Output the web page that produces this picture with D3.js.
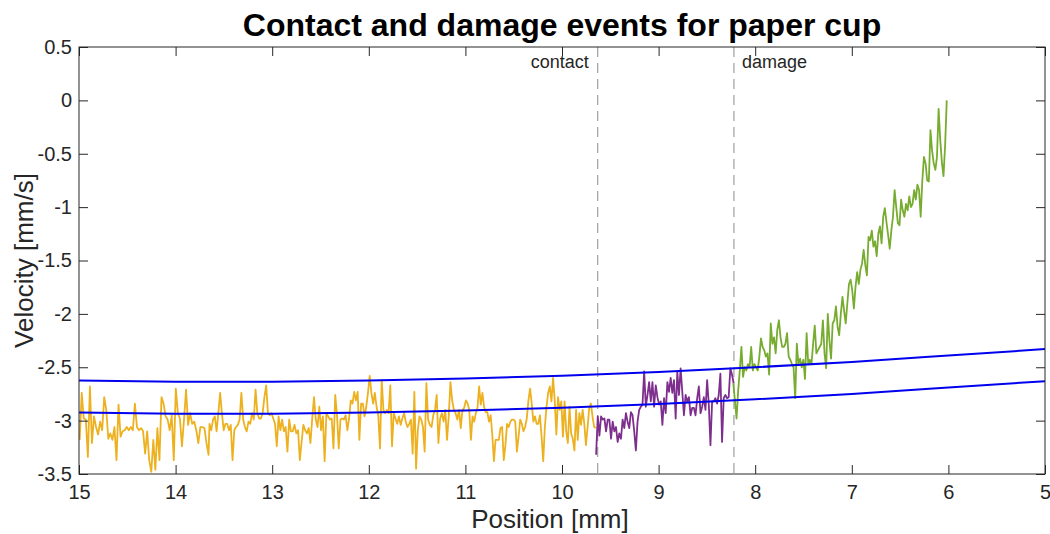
<!DOCTYPE html>
<html>
<head>
<meta charset="utf-8">
<script src="https://cdn.jsdelivr.net/npm/d3@7"></script>
<style>
  body { margin: 0; background: #fff; }
  svg { display: block; font-family: Helvetica, Arial, "Liberation Sans", sans-serif; }
  .axis text { font-size: 20px; fill: #262626; }
  .axis line { stroke: #262626; }
</style>
</head>
<body>
<div id="chart"></div>
<script>
// velocity, per stretch of position (mm)
const yellowA = [-3.18, -2.74, -2.98, -2.99, -3.34, -2.68, -3.21, -2.96, -3.06, -3.13,
  -3.01, -3.09, -2.78, -2.90, -3.17, -3.12, -3.18, -3.06, -3.37, -2.85,
  -3.15, -3.10, -3.09, -3.06, -3.09, -3.06, -3.09, -2.84, -3.06, -3.09,
  -3.07, -3.10, -3.31, -3.10, -3.37, -3.48, -3.18, -3.46, -3.07, -3.37,
  -2.78, -2.84, -2.96, -2.99, -3.09, -2.95, -3.37, -2.70, -2.93, -2.98,
  -3.24, -2.99, -2.71, -3.04, -2.93, -3.03, -3.01, -3.09, -3.21, -3.06,
  -3.06, -3.07, -3.21, -3.32];
const yellowB = [-3.03, -3.09, -2.99, -2.96, -3.10, -2.93, -2.74, -2.93, -3.09, -3.03,
  -3.03, -3.09, -3.04, -3.37, -3.09, -3.06, -3.04, -2.99, -2.74, -2.99,
  -3.06, -3.10, -3.01, -3.03, -2.93, -2.99, -2.71, -2.93, -2.98, -2.98,
  -2.93, -2.78, -2.67, -2.93, -2.95, -2.93, -2.98, -3.03, -3.24, -2.96,
  -3.09, -2.99, -3.10, -3.06, -3.29, -2.99, -3.10, -3.10, -3.04, -3.12,
  -3.09, -3.37, -3.20, -3.04, -3.09, -3.12, -3.07, -3.21, -2.98, -2.78,
  -2.99, -3.06, -2.87, -3.09, -2.96, -3.38, -2.93, -2.96, -2.99, -2.98,
  -3.26, -2.76, -2.95];
const yellowC = [-3.26, -2.99, -2.98, -2.99, -2.95, -3.09, -2.98, -2.81, -2.84, -2.73,
  -2.81, -2.73, -3.18, -2.84, -2.84, -2.96, -2.87, -2.74, -2.58, -2.74,
  -2.84, -2.74, -2.87, -2.95, -3.26, -2.62, -2.90, -2.93, -2.90, -2.93,
  -2.67, -3.24, -2.93, -2.98, -3.03, -2.96, -3.04, -2.98, -2.93, -3.01,
  -3.06, -3.03, -2.99, -3.31, -2.73, -3.45, -3.09, -2.96, -2.99, -3.06,
  -3.29, -2.65, -2.99, -3.04, -3.06, -2.95, -2.90, -2.76, -3.21, -2.98,
  -2.93, -3.01, -2.90, -3.18, -2.96, -2.64, -2.81, -2.90, -2.93, -2.99,
  -2.90, -3.07, -2.90, -2.88, -2.81, -2.84];
const yellowD = [-2.90, -3.18, -2.96, -3.01, -2.93, -2.88, -2.68, -2.85, -2.74, -2.87,
  -2.92, -2.92, -3.01, -2.95, -3.13, -3.38, -3.18, -3.18, -3.18, -3.07,
  -3.06, -3.37, -3.23, -3.03, -3.06, -3.01, -2.99, -2.99, -3.01, -3.29,
  -3.15, -2.99, -3.03, -3.10, -3.06, -2.98, -2.81, -2.70, -2.84, -3.01,
  -2.96, -3.03, -3.03, -2.95, -3.15, -3.38, -3.06, -2.87, -2.74, -2.68,
  -2.82, -2.60, -2.81, -3.13, -2.78, -2.90, -2.82, -3.15, -2.82, -3.10,
  -3.21, -2.87, -3.12, -3.17, -3.28, -2.90, -3.18, -2.93, -3.04, -2.90,
  -3.03, -3.23, -3.06, -2.88, -2.84, -2.96, -3.06, -3.07];
const purpleVals = [-3.32, -2.96, -3.14, -2.96, -2.99, -2.98, -3.10, -2.99, -2.99, -3.17,
  -3.01, -3.10, -3.06, -3.20, -3.12, -3.17, -2.99, -3.07, -2.93, -3.01,
  -3.07, -2.92, -2.95, -3.10, -3.28, -3.01, -2.90, -2.87, -2.85, -2.54,
  -2.87, -2.76, -2.64, -2.82, -2.64, -2.87, -2.67, -2.78, -2.85, -2.82,
  -3.04, -2.79, -2.93, -2.64, -2.73, -2.60, -2.74, -2.62, -2.98, -2.54,
  -2.76, -2.51, -2.73, -2.95, -2.76, -2.82, -2.78, -2.95, -2.88, -2.88,
  -2.95, -2.79, -2.68, -2.93, -2.87, -2.78, -2.90, -2.62, -2.85, -3.23,
  -2.82, -2.82, -2.79, -2.84, -2.76, -2.56, -3.20, -2.79, -2.76, -2.79,
  -2.78, -2.51, -2.57, -2.65];
const greenVals = [-2.65, -2.81, -2.98, -2.72, -2.53, -2.31, -2.59, -2.50, -2.53, -2.47,
  -2.50, -2.31, -2.53, -2.47, -2.50, -2.53, -2.40, -2.23, -2.31, -2.34,
  -2.40, -2.37, -2.57, -2.09, -2.28, -2.22, -2.37, -2.15, -2.06, -2.22,
  -2.31, -2.31, -2.28, -2.18, -2.40, -2.43, -2.47, -2.50, -2.79, -2.28,
  -2.47, -2.42, -2.50, -2.43, -2.61, -2.18, -2.47, -2.43, -2.47, -2.28,
  -2.11, -2.37, -2.34, -2.31, -2.28, -2.06, -2.37, -2.51, -2.00, -2.25,
  -2.42, -2.09, -2.06, -1.93, -2.12, -2.20, -2.00, -1.84, -1.97, -2.09,
  -1.90, -1.72, -1.68, -1.78, -1.95, -1.75, -1.61, -1.72, -1.59, -1.53,
  -1.40, -1.54, -1.64, -1.28, -1.31, -1.22, -1.37, -1.32, -1.46, -1.25,
  -1.18, -1.34, -1.09, -1.01, -1.14, -1.26, -1.39, -1.22, -1.09, -0.84,
  -1.00, -1.15, -1.17, -0.93, -1.03, -1.09, -0.97, -1.03, -0.90, -1.00,
  -0.97, -0.84, -0.93, -0.79, -0.84, -1.09, -0.75, -0.53, -0.59, -0.75,
  -0.76, -0.28, -0.47, -0.59, -0.65, -0.53, -0.08, -0.37, -0.58, -0.71,
  -0.42, 0.00];

// position span (start, end) of each stretch above
const yellowSpans = [[14.993, 13.659], [13.649, 12.329], [12.311, 10.977], [10.960, 9.650]];
const purpleSpan = [9.647, 8.223];
const greenSpan = [8.227, 6.017];

// the two blue bounds, read at whole mm
const boundPos = [15, 14, 13, 12, 11, 10, 9, 8, 7, 6, 5];
const boundUpper = [-2.625, -2.635, -2.635, -2.625, -2.605, -2.58, -2.545, -2.50, -2.45, -2.39, -2.33];
const boundLower = [-2.925, -2.935, -2.935, -2.925, -2.905, -2.88, -2.845, -2.80, -2.75, -2.69, -2.63];

const eventPos = [9.63, 8.22];
const eventNames = ["contact", "damage"];

const xTicks = [15, 14, 13, 12, 11, 10, 9, 8, 7, 6, 5];
const yTicks = [0.5, 0, -0.5, -1, -1.5, -2, -2.5, -3, -3.5];

const width = 1050, height = 534;
const margin = { top: 47, right: 5, bottom: 60, left: 79 };
const innerW = width - margin.left - margin.right;
const innerH = height - margin.top - margin.bottom;

const svg = d3.select("#chart").append("svg")
  .attr("width", width)
  .attr("height", height);

const g = svg.append("g")
  .attr("transform", `translate(${margin.left},${margin.top})`);

const x = d3.scaleLinear().domain([15, 5]).range([0, innerW]);
const y = d3.scaleLinear().domain([-3.5, 0.5]).range([innerH, 0]);

// turn a stretch of values into points
function stretch(values, span) {
  const n = values.length;
  return values.map((v, i) => ({ pos: span[0] + (span[1] - span[0]) * i / (n - 1), vel: v }));
}

const yellowData = [yellowA, yellowB, yellowC, yellowD]
  .flatMap((vals, k) => stretch(vals, yellowSpans[k]));
const purpleData = stretch(purpleVals, purpleSpan);
const greenData = stretch(greenVals, greenSpan);

g.append("clipPath").attr("id", "clip")
  .append("rect").attr("width", innerW).attr("height", innerH);

const plot = g.append("g").attr("clip-path", "url(#clip)");

const line = d3.line().x(d => x(d.pos)).y(d => y(d.vel));

// event markers
eventPos.forEach((p, i) => {
  plot.append("line")
    .attr("x1", x(p)).attr("x2", x(p))
    .attr("y1", 0).attr("y2", innerH)
    .attr("stroke", "#8c8c8c")
    .attr("stroke-width", 1)
    .attr("stroke-dasharray", "10,6");
  g.append("text")
    .attr("x", i === 0 ? x(p) - 9 : x(p) + 8)
    .attr("y", 21)
    .attr("text-anchor", i === 0 ? "end" : "start")
    .style("font-size", "18px")
    .attr("fill", "#262626")
    .text(eventNames[i]);
});

plot.append("path").datum(yellowData)
  .attr("d", line).attr("fill", "none")
  .attr("stroke", "#EDB120").attr("stroke-width", 1.8).attr("stroke-linejoin", "round");
plot.append("path").datum(purpleData)
  .attr("d", line).attr("fill", "none")
  .attr("stroke", "#7E2F8E").attr("stroke-width", 1.8).attr("stroke-linejoin", "round");
plot.append("path").datum(greenData)
  .attr("d", line).attr("fill", "none")
  .attr("stroke", "#77AC30").attr("stroke-width", 1.8).attr("stroke-linejoin", "round");

const boundLine = d3.line().curve(d3.curveNatural)
  .x((d, i) => x(boundPos[i])).y(d => y(d));
[boundUpper, boundLower].forEach(b => {
  plot.append("path").datum(b)
    .attr("d", boundLine).attr("fill", "none")
    .attr("stroke", "#0000ee").attr("stroke-width", 2);
});

// axes, MATLAB style: ticks pointing in, box around
const fmt = d => String(d);
g.append("g").attr("class", "axis")
  .attr("transform", `translate(0,${innerH})`)
  .call(d3.axisBottom(x).tickValues(xTicks).tickFormat(fmt).tickSizeInner(-9).tickSizeOuter(0).tickPadding(11))
  .call(a => a.select(".domain").remove());
g.append("g").attr("class", "axis")
  .call(d3.axisTop(x).tickValues(xTicks).tickFormat("").tickSizeInner(-9).tickSizeOuter(0))
  .call(a => a.select(".domain").remove());
g.append("g").attr("class", "axis")
  .call(d3.axisLeft(y).tickValues(yTicks).tickFormat(fmt).tickSizeInner(-9).tickSizeOuter(0).tickPadding(7))
  .call(a => a.select(".domain").remove());
g.append("g").attr("class", "axis")
  .attr("transform", `translate(${innerW},0)`)
  .call(d3.axisRight(y).tickValues(yTicks).tickFormat("").tickSizeInner(-9).tickSizeOuter(0))
  .call(a => a.select(".domain").remove());

g.append("rect")
  .attr("width", innerW).attr("height", innerH)
  .attr("fill", "none").attr("stroke", "#262626").attr("stroke-width", 1);

// title and labels
svg.append("text")
  .attr("x", margin.left + innerW / 2).attr("y", 36)
  .attr("text-anchor", "middle")
  .style("font-size", "32px").style("font-weight", "bold")
  .attr("fill", "#000")
  .text("Contact and damage events for paper cup");

svg.append("text")
  .attr("x", margin.left + innerW / 2 - 12).attr("y", 528)
  .attr("text-anchor", "middle")
  .style("font-size", "26px")
  .attr("fill", "#262626")
  .text("Position [mm]");

svg.append("text")
  .attr("transform", `translate(33,${margin.top + innerH / 2}) rotate(-90)`)
  .attr("text-anchor", "middle")
  .style("font-size", "26px")
  .attr("fill", "#262626")
  .text("Velocity [mm/s]");
</script>
</body>
</html>
